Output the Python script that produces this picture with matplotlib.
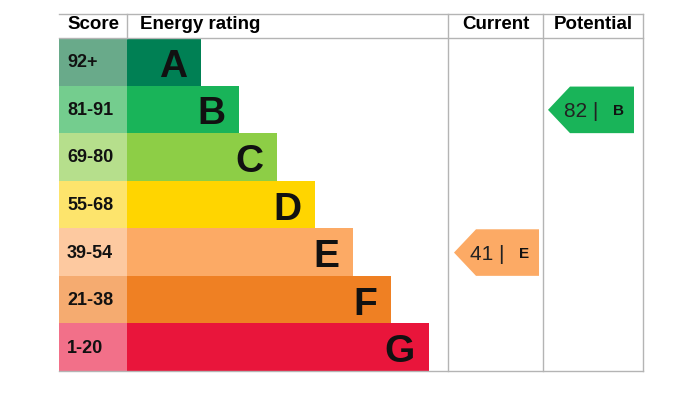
import numpy as np
import matplotlib
matplotlib.use('Agg')
import matplotlib.pyplot as plt
from matplotlib.patches import Polygon

plt.rcParams['font.family'] = ['Liberation Sans', 'DejaVu Sans']

# chart data
bands = ['A', 'B', 'C', 'D', 'E', 'F', 'G']
score_labels = ['92+', '81-91', '69-80', '55-68', '39-54', '21-38', '1-20']
score_low = [92, 81, 69, 55, 39, 21, 1]
bar_rank = [1, 2, 3, 4, 5, 6, 7]
band_colours = ['#008054', '#19b459', '#8dce46', '#ffd500',
                '#fcaa65', '#ef8023', '#e9153b']
score_colours = ['#69aa8a', '#74cd8e', '#b6df8c', '#fde46c',
                 '#fdc9a0', '#f5ab70', '#f27089']
headers = ['Score', 'Energy rating', 'Current', 'Potential']
current = 41
potential = 82

# layout (pixels)
W, H = 695, 400
left, right = 59, 643
top, head_bot = 14, 38
row_h = (371 - 38) / 7.0
score_right = 127
cur_x, pot_x = 448, 543
grid = '#b4b4b4'


def band_of(value):
    for i, lo in enumerate(score_low):
        if value >= lo:
            return i
    return len(bands) - 1


fig = plt.figure(figsize=(W / 100, H / 100), dpi=100)
ax = fig.add_axes([0, 0, 1, 1])
ax.set_xlim(0, W)
ax.set_ylim(H, 0)
ax.axis('off')

ys = head_bot + row_h * np.arange(len(bands)) + row_h / 2
widths = 36 + 38 * np.array(bar_rank)

ax.barh(ys, score_right - left, left=left, height=row_h,
        color=score_colours, linewidth=0)
ax.barh(ys, widths, left=score_right, height=row_h,
        color=band_colours, linewidth=0)

for y, lab, w, b in zip(ys, score_labels, widths, bands):
    ax.text(67, y + 5.5, lab, fontsize=13, fontweight='bold',
            va='baseline', ha='left', color='#111111')
    ax.text(score_right + w - 14, y + 15, b, fontsize=28, fontweight='bold',
            va='baseline', ha='right', color='#111111')

# grid lines
bottom = head_bot + row_h * 7
ax.plot([left, right], [top, top], color=grid, lw=1)
ax.plot([left, right], [head_bot, head_bot], color=grid, lw=1)
ax.plot([left, right], [bottom, bottom], color=grid, lw=1)
ax.plot([score_right, score_right], [top, head_bot], color=grid, lw=1)
for x in (cur_x, pot_x, right):
    ax.plot([x, x], [top, bottom], color=grid, lw=1)

# headers
head_y = 29
hs = 13.5
ax.text(93, head_y, headers[0], fontsize=hs, fontweight='bold',
        ha='center', va='baseline')
ax.text(140, head_y, headers[1], fontsize=hs, fontweight='bold',
        ha='left', va='baseline')
ax.text((cur_x + pot_x) / 2, head_y, headers[2], fontsize=hs,
        fontweight='bold', ha='center', va='baseline')
ax.text((pot_x + right) / 2, head_y, headers[3], fontsize=hs,
        fontweight='bold', ha='center', va='baseline')


def arrow(x0, x1, value):
    i = band_of(value)
    y0 = head_bot + row_h * i + 1
    y1 = y0 + row_h - 1
    ym = (y0 + y1) / 2
    tip = 22
    pts = [(x0, ym), (x0 + tip, y0), (x1, y0), (x1, y1), (x0 + tip, y1)]
    ax.add_patch(Polygon(pts, closed=True, color=band_colours[i], lw=0))
    ax.text(x0 + 16, ym + 7.5, '%d |' % value, fontsize=15, ha='left',
            va='baseline', color='#222222')
    ax.text(x1 - 10, ym + 5.5, bands[i], fontsize=11, fontweight='bold',
            ha='right', va='baseline', color='#111111')


arrow(454, 539, current)
arrow(548, 634, potential)

fig.savefig('out.png', dpi=100)
